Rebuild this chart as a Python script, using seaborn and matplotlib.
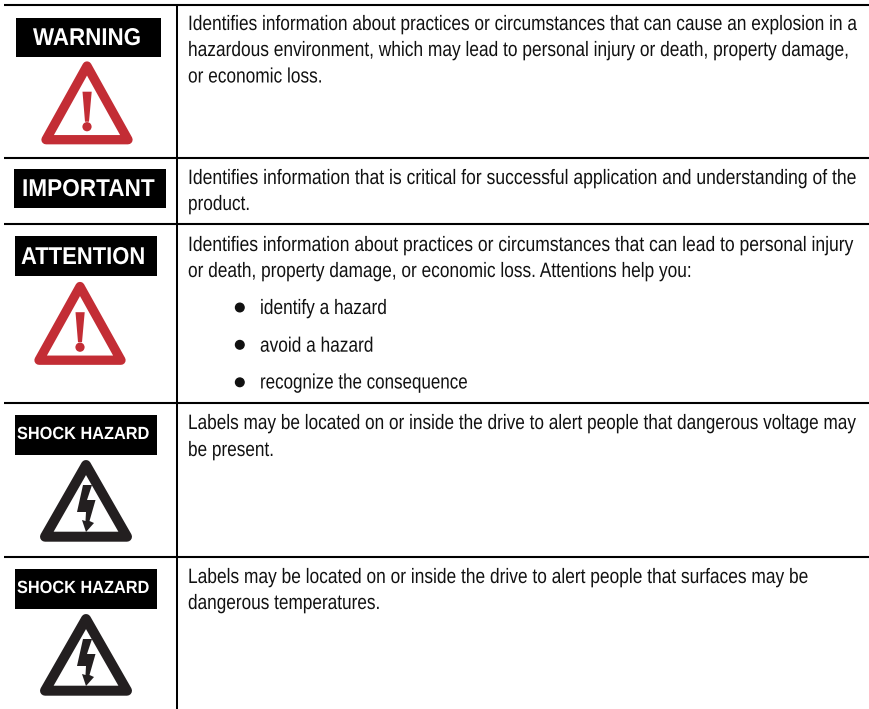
import matplotlib
matplotlib.use("Agg")
import matplotlib.pyplot as plt
from matplotlib.patches import Polygon, Rectangle, Circle
from matplotlib.patheffects import AbstractPathEffect
from matplotlib.text import Text
from matplotlib.transforms import Affine2D, Bbox
import seaborn as sns

sns.set_theme(style="white")

body_lines = [
    "Identifies information about practices or circumstances that can cause an explosion in a",
    "hazardous environment, which may lead to personal injury or death, property damage,",
    "or economic loss.",
    "Identifies information that is critical for successful application and understanding of the",
    "product.",
    "Identifies information about practices or circumstances that can lead to personal injury",
    "or death, property damage, or economic loss. Attentions help you:",
    "identify a hazard",
    "avoid a hazard",
    "recognize the consequence",
    "Labels may be located on or inside the drive to alert people that dangerous voltage may",
    "be present.",
    "Labels may be located on or inside the drive to alert people that surfaces may be",
    "dangerous temperatures.",
]
badge_labels = ["WARNING", "IMPORTANT", "ATTENTION", "SHOCK HAZARD", "SHOCK HAZARD"]

# Layout, in pixels of the 870x709 page
row_rules = [5, 158, 224, 403, 557]
body_x = [188, 188, 188, 188, 188, 188, 188, 260, 260, 260, 188, 188, 188, 188]
body_y = [30, 56, 82.5, 184, 210, 251, 277, 314, 351.7, 388.5, 429, 456, 583, 609]
body_squeeze = [0.83, 0.832, 0.83, 0.8426, 0.825, 0.84, 0.83, 0.83, 0.83, 0.815, 0.8263, 0.825, 0.833, 0.826]
bullet_rows = [307.5, 344.8, 382.3]
badge_boxes = [(16, 161, 18, 57), (14, 166, 169, 208), (15, 157, 236, 276), (15, 157, 415, 455), (15, 157, 569, 609)]
badge_text_xy = [(33, 45), (22, 196), (21, 264), (17, 439), (17, 593)]
badge_sizes = [17.5, 17.5, 17.5, 12.7, 12.7]
badge_squeeze = [0.92, 0.93, 0.905, 0.925, 0.925]
alert_offsets = [(0, 0), (-7, 220.5)]
shock_offsets = [(0, 0), (0, 154)]
RED = "#C32D35"
DARK = "#231F20"
BODY_SIZE = 15.0


class Squeeze(AbstractPathEffect):
    """Narrow the glyph outlines horizontally around the text origin."""

    def __init__(self, factor):
        super().__init__()
        self.factor = factor

    def draw_path(self, renderer, gc, tpath, affine, rgbFace=None):
        renderer.draw_path(gc, tpath, Affine2D().scale(self.factor, 1) + affine, rgbFace)


class NarrowText(Text):
    """Left-aligned real text drawn condensed; its layout box is the drawn width."""

    def __init__(self, x, y, s, factor, **kw):
        super().__init__(x, y, s, ha="left", va="baseline", **kw)
        self.factor = factor
        self.set_path_effects([Squeeze(factor)])

    def _get_layout(self, renderer):
        bb, info, descent = super()._get_layout(renderer)
        narrowed = Bbox.from_extents(bb.x0, bb.y0, bb.x0 + bb.width * self.factor, bb.y1)
        return narrowed, info, descent


fig = plt.figure(figsize=(8.70, 7.09), dpi=100, facecolor="white")
ax = fig.add_axes([0, 0, 1, 1])
ax.set_xlim(0, 870)
ax.set_ylim(709, 0)
ax.axis("off")

for y in row_rules:
    ax.plot([4, 870], [y, y], color="black", lw=1.5, solid_capstyle="butt")
ax.plot([177, 177], [5, 709], color="black", lw=1.45, solid_capstyle="butt")

for text, x, y, squeeze in zip(body_lines, body_x, body_y, body_squeeze):
    ax.add_artist(NarrowText(x, y, text, squeeze, family="Liberation Sans",
                             fontsize=BODY_SIZE, color="#111111"))

for y in bullet_rows:
    ax.add_patch(Circle((239.8, y), 4.3, color="#111111"))

for label, (x0, x1, y0, y1), (tx, ty), fs, squeeze in zip(badge_labels, badge_boxes, badge_text_xy,
                                                           badge_sizes, badge_squeeze):
    ax.add_patch(Rectangle((x0, y0), x1 - x0, y1 - y0, color="black", lw=0))
    ax.add_artist(NarrowText(tx, ty, label, squeeze, family="Liberation Sans", weight="bold",
                             fontsize=fs, color="white"))

for dx, dy in alert_offsets:
    ax.add_patch(Polygon([(87 + dx, 66 + dy), (46 + dx, 139.7 + dy), (128 + dx, 139.7 + dy)],
                         closed=True, fill=False, edgecolor=RED, lw=6.7, joinstyle="round"))
    ax.add_patch(Polygon([(82.5 + dx, 91.7 + dy), (91.7 + dx, 91.7 + dy), (89 + dx, 121.7 + dy), (85 + dx, 121.7 + dy)],
                         closed=True, color=RED, lw=0))
    ax.add_patch(Circle((87 + dx, 126.7 + dy), 4.6, color=RED, lw=0))

bolt = [(83, 485), (92, 485), (87, 500), (95.5, 500), (89.5, 521), (94, 523), (86, 532),
        (82, 520), (85.5, 521), (86, 512), (77, 512)]
for dx, dy in shock_offsets:
    ax.add_patch(Polygon([(86 + dx, 465 + dy), (45 + dx, 536.7 + dy), (127 + dx, 536.7 + dy)],
                         closed=True, fill=False, edgecolor=DARK, lw=7.2, joinstyle="round"))
    ax.add_patch(Polygon([(x + dx, y + dy) for x, y in bolt], closed=True, color=DARK, lw=0))

fig.savefig("out.png", dpi=100, facecolor="white")
